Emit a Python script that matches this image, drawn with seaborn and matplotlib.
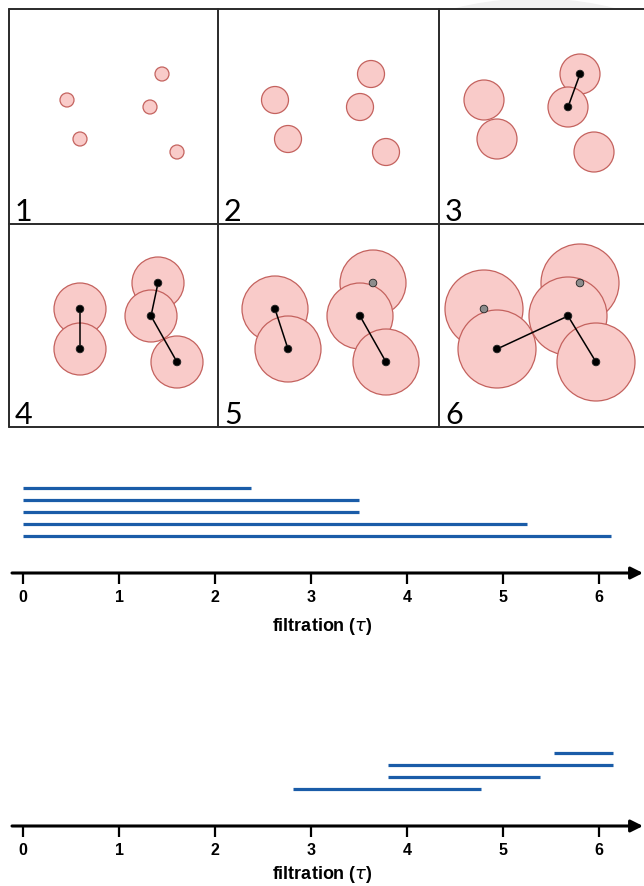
import numpy as np
import pandas as pd
import matplotlib.pyplot as plt
import seaborn as sns
from matplotlib.patches import Circle, Rectangle

sns.set_theme(style="white")
plt.rcParams['font.family'] = ['Liberation Sans', 'DejaVu Sans']

# ball radius at each filtration step (px)
radii = [7, 13.5, 20, 26, 33, 39]
panel_labels = ['1', '2', '3', '4', '5', '6']

# point positions inside each panel, px from the panel's top-left corner
pts_1 = [(58, 91), (71, 130), (141, 98), (153, 65), (168, 143)]
pts_2 = [(57, 91), (70, 130), (142, 98), (153, 65), (168, 143)]
pts_3 = [(45, 91), (58, 130), (129, 98), (141, 65), (155, 143)]
pts_4 = [(71, 85), (71, 125), (142, 92), (149, 59), (168, 138)]
pts_5 = [(57, 85), (70, 125), (142, 92), (155, 59), (168, 138)]
pts_6 = [(45, 85), (58, 125), (129, 92), (141, 59), (157, 138)]

# edges (index pairs) and marked vertices per panel
edges_1, edges_2 = [], []
edges_3 = [(2, 3)]
edges_4 = [(0, 1), (3, 2), (2, 4)]
edges_5 = [(0, 1), (2, 4)]
edges_6 = [(1, 2), (2, 4)]
black_1, black_2 = [], []
black_3 = [2, 3]
black_4 = [0, 1, 2, 3, 4]
black_5 = [0, 1, 2, 4]
black_6 = [1, 2, 4]
gray_5 = [3]
gray_6 = [0, 3]

# persistence barcodes (top to bottom)
h0_birth = [0, 0, 0, 0, 0]
h0_death = [2.37, 3.50, 3.50, 5.25, 6.13]
h1_birth = [5.53, 3.80, 3.80, 2.81]
h1_death = [6.15, 6.15, 5.39, 4.77]
ticks = [0, 1, 2, 3, 4, 5, 6]

panels = [
    (pts_1, edges_1, black_1, []),
    (pts_2, edges_2, black_2, []),
    (pts_3, edges_3, black_3, []),
    (pts_4, edges_4, black_4, []),
    (pts_5, edges_5, black_5, gray_5),
    (pts_6, edges_6, black_6, gray_6),
]

W, H = 644, 887
col_x = [9, 218, 439]
row_y = [10, 225]
grid_bottom = 428
draw_order = [0, 1, 3, 2, 4]
ball_face = '#f9cbc9'
ball_edge = '#c4625e'
bar_color = '#1a5ca8'

fig = plt.figure(figsize=(W / 100, H / 100), dpi=100)

# ---- filtration snapshots ----
ax = fig.add_axes([0, 0, 1, 1])
ax.set_xlim(0, W)
ax.set_ylim(H, 0)
ax.axis('off')

# faint watermark peeking above the grid
ax.add_patch(Circle((535, 330), 330, color='#f2f2f2', zorder=0))
ax.add_patch(Rectangle((0, row_y[0]), W, H, color='white', zorder=0.5))

dots = []
for i, (pts, edges, black, gray) in enumerate(panels):
    ox, oy = col_x[i % 3], row_y[i // 3]
    xy = np.array(pts, dtype=float) + [ox, oy]
    for k in draw_order:
        ax.add_patch(Circle(xy[k], radii[i], facecolor=ball_face,
                            edgecolor=ball_edge, lw=0.9, zorder=2))
    for a, b in edges:
        ax.plot(xy[[a, b], 0], xy[[a, b], 1], color='black', lw=1.1, zorder=3)
    for k in black:
        dots.append({'x': xy[k, 0], 'y': xy[k, 1], 'state': 'alive'})
    for k in gray:
        dots.append({'x': xy[k, 0], 'y': xy[k, 1], 'state': 'merged'})
    ax.text(ox + 6, (row_y[1] if i < 3 else grid_bottom) - 4, panel_labels[i],
            fontsize=22, family=['Lato', 'DejaVu Sans'], color='black',
            va='baseline', ha='left', zorder=4)

dots = pd.DataFrame(dots)
sns.scatterplot(data=dots, x='x', y='y', hue='state',
                palette={'alive': 'black', 'merged': '#8c8c8c'},
                s=30, edgecolor='#222222', linewidth=0.6,
                legend=False, ax=ax, zorder=5)
ax.set_xlabel('')
ax.set_ylabel('')

grid_kw = dict(color='#2a2a2a', lw=1.4, zorder=6)
for y in [row_y[0], row_y[1], grid_bottom]:
    ax.plot([col_x[0], W], [y, y], **grid_kw)
for x in col_x:
    ax.plot([x, x], [row_y[0], grid_bottom], **grid_kw)

# ---- barcodes ----
x0, unit, gap = 23, 96, 12


def barcode(top, axis_y, first_row, births, deaths, labelpad):
    bax = fig.add_axes([0, 1 - axis_y / H, 1, (axis_y - top) / H])
    bax.set_xlim(-x0 / unit, (W - x0) / unit)
    bax.set_ylim((axis_y - first_row) / gap, (top - first_row) / gap)
    rows = np.arange(len(births))
    bax.hlines(rows, births, deaths, color=bar_color, lw=2.3)
    sns.despine(ax=bax, left=True, bottom=True)
    bax.set_facecolor('none')
    bax.set_yticks([])
    bax.set_xticks(ticks)
    bax.set_xticklabels([str(t) for t in ticks], fontweight='bold')
    bax.tick_params(axis='x', bottom=True, direction='out', length=7.7,
                    width=1.6, pad=4, labelsize=11.5, colors='black')
    bax.annotate('', xy=((643 - x0) / unit, 0), xytext=((12 - x0) / unit, 0),
                 xycoords=('data', 'axes fraction'),
                 arrowprops=dict(arrowstyle='-|>', color='black', lw=2.2,
                                 mutation_scale=18, shrinkA=0, shrinkB=0),
                 annotation_clip=False)
    bax.set_xlabel('filtration ($\\tau$)', fontsize=13, fontweight='bold',
                   labelpad=labelpad, color='black')
    return bax


barcode(470, 574, 489.3, h0_birth, h0_death, 8)
barcode(740, 827, 754.3, h1_birth, h1_death, 4)

fig.savefig('out.png', dpi=100)
